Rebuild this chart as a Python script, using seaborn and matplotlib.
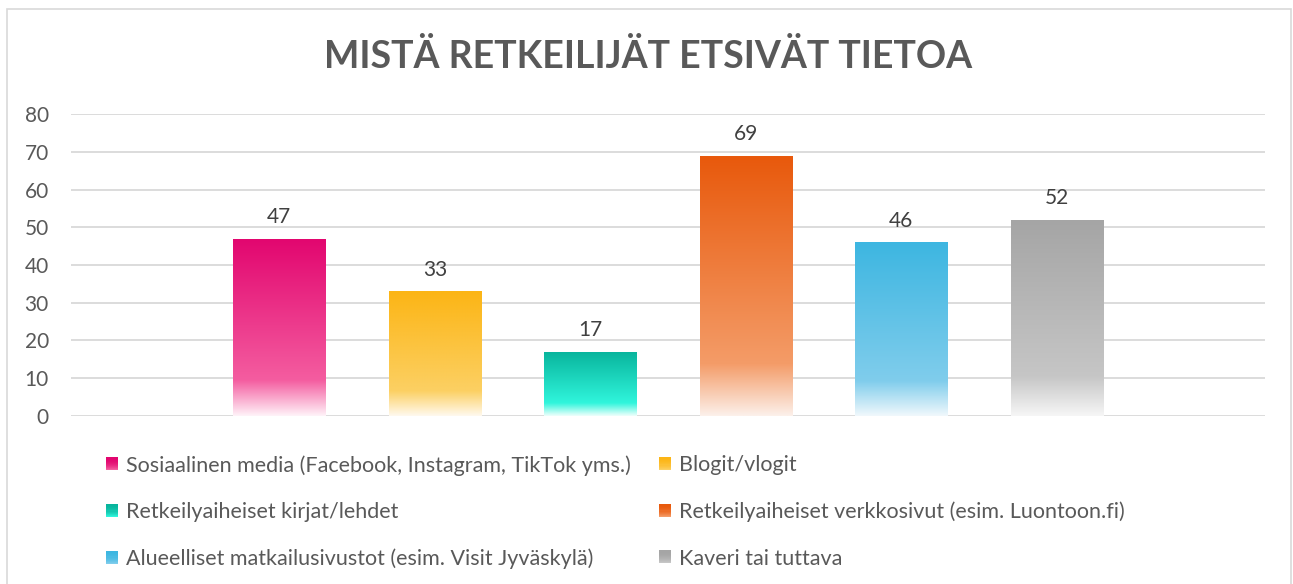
import numpy as np
import pandas as pd
import matplotlib
matplotlib.use("Agg")
import matplotlib.pyplot as plt
import seaborn as sns
from matplotlib.colors import LinearSegmentedColormap, to_rgb
from matplotlib.patches import Rectangle
from matplotlib.legend_handler import HandlerBase

# data
categories = [
    "Sosiaalinen media (Facebook, Instagram, TikTok yms.)",
    "Blogit/vlogit",
    "Retkeilyaiheiset kirjat/lehdet",
    "Retkeilyaiheiset verkkosivut (esim. Luontoon.fi)",
    "Alueelliset matkailusivustot (esim. Visit Jyväskylä)",
    "Kaveri tai tuttava",
]
values = [47, 33, 17, 69, 46, 52]
yticks = [0, 10, 20, 30, 40, 50, 60, 70, 80]

# gradient stops per bar: top, ~80% down, bottom
top_colors = ['#E2066F', '#FCB515', '#08B49C', '#E8590C', '#3DB6E1', '#A5A5A5']
mid_colors = ['#F45DA0', '#FCD063', '#30F5DC', '#F49C68', '#80CDEC', '#C6C6C6']
bot_colors = ['#FFF2F8', '#FFF9EE', '#EFFFFC', '#FCF0EA', '#F0F8FC', '#F6F6F6']

TEXT_GREY = '#595959'
GRID_GREY = '#D9D9D9'

sns.set_theme(style="white")
plt.rcParams['font.family'] = ['Lato', 'DejaVu Sans']

W, H = 1293, 584
fig = plt.figure(figsize=(W / 100, H / 100), dpi=100)
ax = fig.add_axes([71 / W, 1 - 415.7 / H, (1265 - 71) / W, (415.7 - 114.3) / H])

df = pd.DataFrame({'source': categories, 'count': values})
sns.barplot(data=df, x='source', y='count', order=categories,
            color='white', width=0.593, ax=ax, errorbar=None, zorder=2)

ax.set_xlim(-1.34, 6.34)
ax.set_ylim(0, 80)
ax.set_yticks(yticks)
ax.set_xticks([])
ax.set_xlabel('')
ax.set_ylabel('')
ax.tick_params(axis='y', labelsize=15, labelcolor=TEXT_GREY, length=0, pad=16)
for s in ax.spines.values():
    s.set_visible(False)
for t in yticks:
    ax.axhline(t, color=GRID_GREY, lw=1.3, zorder=0)

# gradient fill clipped to each bar
grad = np.linspace(0, 1, 256).reshape(-1, 1)
for i, bar in enumerate(ax.patches):
    cmap = LinearSegmentedColormap.from_list(
        f'g{i}', [(0, top_colors[i]), (0.8, mid_colors[i]), (1, bot_colors[i])])
    x0, w, h = bar.get_x(), bar.get_width(), bar.get_height()
    im = ax.imshow(grad, cmap=cmap, aspect='auto', extent=[x0, x0 + w, 0, h],
                   origin='upper', zorder=2, interpolation='bilinear')
    im.set_clip_path(bar)
    bar.set_edgecolor('none')
    ax.text(bar.get_x() + w / 2, h + 5.8, f'{values[i]}', ha='center', va='center',
            fontsize=15, color='#404040')
ax.set_xlim(-1.34, 6.34)
ax.set_ylim(0, 80)

fig.text(648 / W, 1 - 57 / H, 'MISTÄ RETKEILIJÄT ETSIVÄT TIETOA', ha='center', va='center',
         fontsize=27, fontweight='bold', color=TEXT_GREY)

# outer chart frame
fig.patches.append(Rectangle((7 / W, -0.01), (1291 - 7) / W, 1 - 9 / H + 0.01,
                             transform=fig.transFigure, fill=False,
                             edgecolor='#D9D9D9', lw=1.2))


class GradientHandler(HandlerBase):
    def __init__(self, top, bottom):
        super().__init__()
        self.top, self.bottom = np.array(to_rgb(top)), np.array(to_rgb(bottom))

    def create_artists(self, legend, orig_handle, xdescent, ydescent, width, height,
                       fontsize, trans):
        n = 12
        arts = []
        for k in range(n):
            f = k / (n - 1)
            c = self.top * (1 - f ** 2) + self.bottom * f ** 2
            r = Rectangle((-xdescent, -ydescent + height * (1 - (k + 1) / n)), width, height / n,
                          facecolor=c, edgecolor='none', transform=trans)
            arts.append(r)
        return arts


handles = [Rectangle((0, 0), 1, 1) for _ in categories]
hmap = {handles[i]: GradientHandler(top_colors[i], mid_colors[i])
        for i in range(len(categories))}

for col, xpos in [(0, 106), (1, 659)]:
    idx = [col, col + 2, col + 4]
    leg = fig.legend([handles[i] for i in idx], [categories[i] for i in idx],
                     handler_map=hmap, loc='upper left',
                     bbox_to_anchor=(xpos / W, 1 - 455 / H), frameon=False,
                     fontsize=15.5, labelcolor=TEXT_GREY, handlelength=0.55, handleheight=0.55,
                     handletextpad=0.4, labelspacing=1.23, borderaxespad=0, borderpad=0)

fig.savefig('out.png', dpi=100)
